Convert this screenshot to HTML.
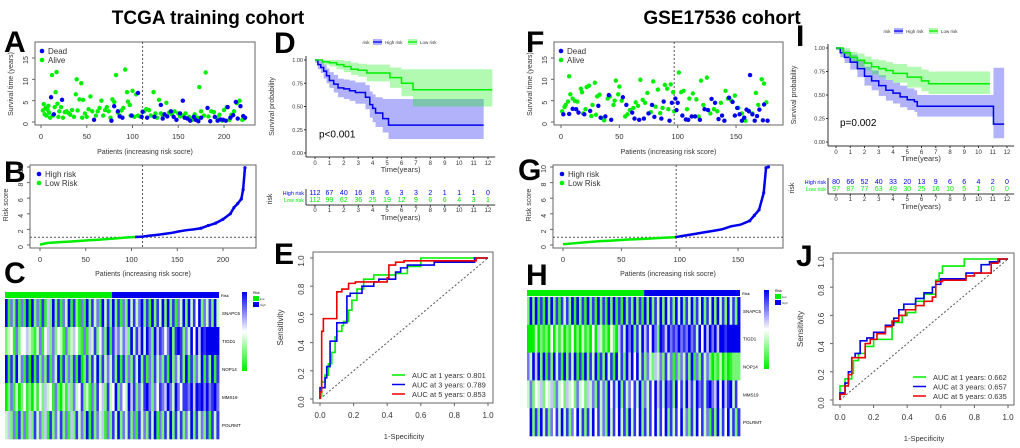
<!DOCTYPE html>
<html><head><meta charset="utf-8"><style>
body{margin:0;background:#fff}
svg{display:block;font-family:"Liberation Sans",sans-serif}
</style></head><body>
<svg id="fig" width="1020" height="448" viewBox="0 0 1020 448">
<g font-weight="bold" fill="#000">
<text x="208" y="24" font-size="19" text-anchor="middle">TCGA training cohort</text>
<text x="722" y="24" font-size="19" text-anchor="middle">GSE17536  cohort</text>
<g font-size="30">
<text x="4" y="52">A</text>
<text x="4" y="182">B</text>
<text x="4" y="283">C</text>
<text x="274" y="53">D</text>
<text x="274" y="264">E</text>
<text x="526" y="52">F</text>
<text x="518" y="180">G</text>
<text x="526" y="285">H</text>
<text x="796" y="46">I</text>
<text x="796" y="266">J</text>
</g></g>
</svg>
<script>
// ---------- DATA ----------
const aLowIdx=[2,3,4,5,6,7,8,9,10,12,13,15,16,17,18,19,20,22,24,26,28,30,32,34,36,38,39,40,42,44,45,46,48,50,52,54,56,60,62,64,66,68,70,72,74,76,78,80,82,84,86,88,90,92,94,95,97,98,100,102,104,106,108,113,115,118,120,123,125,127,129,131,133,137,140,143,146,150,152,155,158,162,165,168,171,173,175,178,180,183,186,189,192,195,198,200,203,206,208,211,214,217,220,222];
const aLowTime=[2.7,4.2,1.8,3.3,1.5,2.9,3.8,2.2,1,11,1.5,3.5,7,11.7,4.3,1.2,2.5,3.5,1,2.3,2.5,2.1,1.7,2.8,1.2,6.5,10,2.7,5.3,9.1,1,5.2,2,1.2,3,6,2.5,1.5,2.5,3.3,5,1.5,2.8,3.5,2.5,1,5.3,4.7,11,2.2,1.5,2.7,3.3,12.3,7,4.8,4,1.5,7.3,1.2,6.5,1.5,1.3,2.5,3,2.8,1.5,7,2,1,5.2,2,1.5,4.5,2.2,1.8,2.5,2,1.3,1.5,2,1.2,0.5,1.8,1,8.2,2.5,1.5,11.6,1.3,2.5,2.3,1,1.7,0.3,2.8,3.5,0.5,1.7,2.5,4.4,5,0.5,0.8];
const aDeadIdx=[11,14,23,58,77,80,84,86,89,99,106,110,111,116,124,131,133,135,138,142,145,148,152,155,157,160,163,167,169,172,175,182,185,190,193,196,199,202,204,207,210,213,215,218,221,223];
const aDeadTime=[5.8,1.8,5.2,0.5,0.3,3.7,2.5,1.3,1,1.5,6.8,1.2,2.4,1,1.2,4,0.8,1.8,1.3,2.5,1.2,0.5,2,5,1,0.8,0.3,1.2,0.5,0.2,1,3.3,0.2,1.2,0.3,0.6,0.5,0.3,3.5,1,1.6,4.7,0.8,3.7,1.4,1];
const fLowIdx=[1,3,4,6,7,8,10,12,14,17,18,19,21,22,24,26,27,29,30,31,33,35,37,40,42,45,46,47,49,50,52,55,57,59,62,64,66,68,70,72,74,77,79,81,83,85,87,89,91,92,94,96,97,101,103,105,108,110,113,116,118,120,122,125,128,131,134,137,141,143,146,149,152,155,158,161,164,167,169,172,174,176];
const fLowTime=[2.5,3.5,4,4.8,10.7,6.5,5.5,4.9,4.8,7.8,7,2,3,8.2,8.5,1.4,4,9.2,1.7,6,6.4,0.9,0.4,5.5,6,4,5,9.7,6.5,8.3,5,1.3,1.8,2.8,3.3,4.6,3.8,9.9,5.2,4.5,6.8,2.3,9.5,3.6,7.6,2.1,3.3,8.7,7.8,3,8.8,7,2.5,11.6,7,7.3,3,5.5,6.7,5.3,1.3,9.7,4,10.4,2,3,2.5,4.5,7.3,5.5,5,6.2,3.3,2,0.3,2.6,2,6.8,4,10,9,4.6];
const fDeadIdx=[2,7,10,13,15,20,25,32,34,38,41,43,53,56,61,63,67,71,75,78,80,86,88,93,95,98,99,100,104,107,109,112,115,119,123,126,129,132,135,138,140,144,147,149,151,153,155,157,159,161,162,164,166,168,170,173,174,177];
const fDeadTime=[1.8,1.9,3.1,3,2.2,1.8,2.6,3.8,1,1.3,6.3,0.5,5.8,4,2.2,0.8,0.5,0.8,2,4,1.2,0.8,4.8,0.3,4.5,5.5,2.8,4.5,1.5,0.6,0.5,1.3,1.3,0.5,3,2.8,5.4,4.5,0.7,1.5,0.3,5.7,4.7,1.5,3.3,1.8,0.3,1,2.9,2.5,11,1.8,0.3,1.4,2.9,0.4,4.1,0.3];
const bIdx=[0,8,16,24,32,40,48,56,64,72,80,88,96,104,112,120,128,136,144,152,160,168,176,184,192,200,208,212,216,220,222,224];
const bScore=[0.05,0.25,0.32,0.38,0.43,0.5,0.56,0.62,0.68,0.75,0.82,0.9,0.97,1.02,1.08,1.2,1.3,1.42,1.55,1.75,1.9,2.0,2.15,2.5,2.8,3.3,4.0,4.8,5.3,5.9,7.1,9.9];
const gIdx=[0,8,16,24,32,40,48,56,64,72,80,88,96,104,112,120,128,136,144,152,160,164,168,172,174,176];
const gScore=[0.1,0.2,0.3,0.4,0.5,0.55,0.62,0.7,0.75,0.8,0.88,0.95,1.0,1.2,1.4,1.6,1.8,2.0,2.4,2.6,3.1,3.8,4.5,6.7,9.9,10];
const genes=["SNAPC5","TIGD1","NOP14","MMS19","POLRMT"];
const cHeat=[
"8162716180826171528271638172061827361837282716283736827182738282716382837482637283",
"2341624453213614526243162354216153724628175636528375838628576468278726384858788888",
"8172836170817262716381726271802727382736372817262738271627362718263728172638172817",
"0261302412031425341620315263472316274527348264385726378626476586386477685878686786",
"3526172615273625172637261527362817263516273826372617362738162738273726382736271737"];
const hHeat=[
"2828171828271737281827182718271828171827282718282738283728382738273827382837283728",
"0003021204031302140203120405312042057386827385748628758676867686738485868588788888",
"6385828172837182738171827381728371837285848372632536273616263728162736202130201222",
"3624352435263425342634253627362847382736473826374857386728473857386737865848578374",
"4827283726473837264837273847362837483728374827374837482737483627384736172837483727"];
const dHighT=[0,0.2,0.4,0.6,0.8,1,1.3,1.6,2,2.4,2.8,3.3,3.5,3.8,4,4.2,4.7,5.1,11.7];
const dHighS=[1,0.95,0.92,0.88,0.83,0.78,0.74,0.7,0.69,0.67,0.65,0.65,0.6,0.52,0.48,0.43,0.37,0.3,0.3];
const dHighL=[0.97,0.9,0.86,0.8,0.75,0.7,0.65,0.6,0.58,0.56,0.53,0.53,0.47,0.38,0.33,0.28,0.22,0.15,0.15];
const dHighU=[1,1,0.98,0.95,0.91,0.87,0.84,0.8,0.79,0.78,0.76,0.76,0.73,0.66,0.63,0.6,0.58,0.58,0.58];
const dLowT=[0,0.5,1,1.5,2,2.5,3,3.6,5.2,6,6.8,12.3];
const dLowS=[1,0.98,0.97,0.95,0.93,0.9,0.89,0.86,0.81,0.75,0.68,0.68];
const dLowL=[1,0.95,0.93,0.9,0.87,0.84,0.82,0.77,0.7,0.61,0.5,0.5];
const dLowU=[1,1,1,1,0.99,0.97,0.96,0.95,0.92,0.9,0.9,0.9];
const dHighN=[112,67,40,16,8,6,3,3,2,1,1,1,0];
const dLowN=[112,99,62,36,25,19,12,9,6,6,4,3,1];
const iHighT=[0,0.3,0.6,1,1.5,2,2.5,3,3.5,4,4.5,5,5.5,5.7,11,11.05,11.8];
const iHighS=[1,0.95,0.9,0.85,0.78,0.7,0.65,0.6,0.55,0.52,0.48,0.45,0.43,0.38,0.38,0.19,0.19];
const iHighL=[0.98,0.9,0.84,0.77,0.69,0.6,0.55,0.49,0.44,0.41,0.37,0.34,0.32,0.27,0.27,0.04,0.04];
const iHighU=[1,1,0.97,0.93,0.87,0.8,0.76,0.71,0.66,0.63,0.6,0.57,0.55,0.5,0.5,0.79,0.79];
const iLowT=[0,0.5,1,1.5,2,2.5,3,3.5,4,5,6,6.5,10.8];
const iLowS=[1,0.95,0.9,0.87,0.84,0.8,0.78,0.76,0.73,0.69,0.65,0.62,0.62];
const iLowL=[0.98,0.9,0.84,0.8,0.76,0.72,0.69,0.66,0.63,0.58,0.54,0.51,0.51];
const iLowU=[1,1,0.96,0.94,0.91,0.88,0.87,0.85,0.83,0.8,0.77,0.75,0.75];
const iHighN=[80,66,52,40,33,20,13,9,6,6,4,2,0];
const iLowN=[97,87,77,63,49,30,25,16,10,5,1,0,0];
const e1F=[0,0.01,0.03,0.05,0.07,0.09,0.1,0.13,0.14,0.17,0.19,0.22,0.26,0.32,0.45,0.52,0.6,0.7,1];
const e1T=[0,0.02,0.12,0.17,0.25,0.33,0.44,0.48,0.52,0.55,0.63,0.7,0.78,0.85,0.88,0.89,0.94,1,1];
const e3F=[0,0,0.03,0.04,0.06,0.1,0.16,0.18,0.25,0.32,0.35,0.45,0.48,0.52,0.68,0.92,1];
const e3T=[0,0.08,0.08,0.15,0.23,0.41,0.54,0.73,0.75,0.8,0.83,0.85,0.9,0.93,0.95,0.97,1];
const e5F=[0,0.01,0.02,0.1,0.13,0.17,0.21,0.25,0.4,0.41,0.45,0.5,0.55,0.93,1];
const e5T=[0,0.05,0.48,0.57,0.76,0.78,0.82,0.83,0.83,0.86,0.95,0.97,0.98,0.98,1];
const j1F=[0,0,0.03,0.07,0.08,0.11,0.15,0.2,0.22,0.31,0.31,0.37,0.4,0.45,0.5,0.57,0.59,0.61,0.74,0.78,1];
const j1T=[0,0.05,0.1,0.15,0.19,0.28,0.33,0.38,0.43,0.43,0.52,0.55,0.6,0.62,0.7,0.75,0.85,0.9,0.95,1,1];
const j3F=[0,0.03,0.05,0.07,0.09,0.12,0.16,0.2,0.27,0.32,0.35,0.38,0.45,0.5,0.55,0.57,0.6,0.75,0.78,0.84,0.89,0.95,1];
const j3T=[0,0.05,0.12,0.2,0.3,0.33,0.42,0.44,0.48,0.53,0.58,0.64,0.68,0.72,0.76,0.8,0.82,0.86,0.9,0.9,0.96,0.98,1];
const j5F=[0,0.03,0.05,0.07,0.1,0.15,0.18,0.22,0.27,0.31,0.35,0.39,0.45,0.5,0.55,0.57,0.61,0.75,0.8,0.9,0.94,1];
const j5T=[0,0.04,0.1,0.18,0.3,0.3,0.4,0.43,0.47,0.52,0.56,0.6,0.64,0.67,0.7,0.73,0.84,0.85,0.88,0.9,0.97,1];
// ---------- DRAW ----------
const NS="http://www.w3.org/2000/svg",svg=document.getElementById('fig');
const G="#00ee00",B="#0000ee",R="#ee0000";
function el(tag,at,parent,txt){const e=document.createElementNS(NS,tag);for(const k in at)e.setAttribute(k,at[k]);if(txt!==undefined)e.textContent=txt;(parent||svg).appendChild(e);return e;}
function grp(name){const g=el('g',{});


return g;}
function T(g,x,y,s,size,o){o=o||{};const e=el('text',Object.assign({x:x,y:y,'font-size':size,fill:o.fill||'#333','text-anchor':o.a||'middle'},o.rot?{transform:`rotate(-90 ${x} ${y})`}:{}),g,s);


return e;}
function box(g,x1,y1,x2,y2){el('rect',{x:x1,y:y1,width:x2-x1,height:y2-y1,fill:'none',stroke:'#666','stroke-width':1},g);}

// Scatter panels (A, F)
function scatterPanel(name,bx,x0,xs,xmax,xticks,cut,lowI,lowT,deadI,deadT,xlab){
 const g=grp(name);const sx=v=>x0+v*xs,sy=v=>122-v*64/15;
 box(g,bx[0],42,bx[1],125);
 [0,5,10,15].forEach(v=>{el('line',{x1:bx[0]-3,x2:bx[0],y1:sy(v),y2:sy(v),stroke:'#666'},g);T(g,bx[0]-7,sy(v)+2,v,7,{rot:1});});
 xticks.forEach(v=>{el('line',{x1:sx(v),x2:sx(v),y1:125,y2:128,stroke:'#666'},g);T(g,sx(v),139,v,7.5);});
 el('line',{x1:sx(cut),x2:sx(cut),y1:42,y2:125,stroke:'#555','stroke-dasharray':'2,2'},g);
 lowI.forEach((v,i)=>{const c=el('circle',{cx:sx(v),cy:sy(lowT[i]),r:2.2,fill:G},g);
 
 });
 deadI.forEach((v,i)=>{const c=el('circle',{cx:sx(v),cy:sy(deadT[i]),r:2.2,fill:B},g);
 
 });
 el('circle',{cx:bx[0]+7,cy:51,r:2.3,fill:B},g);T(g,bx[0]+13,54,'Dead',8,{a:'start'});
 el('circle',{cx:bx[0]+7,cy:60,r:2.3,fill:G},g);T(g,bx[0]+13,63,'Alive',8,{a:'start'});
 T(g,bx[0]-22,84,'Survival time (years)',7,{rot:1,name:'y-axis-title'});
 T(g,(bx[0]+bx[1])/2,154,xlab,7,{name:'x-axis-title'});
}
scatterPanel('panel-a-scatter',[35,255],41,0.915,224,[0,50,100,150,200],111,aLowIdx,aLowTime,aDeadIdx,aDeadTime,'Patients (increasing risk socre)');
scatterPanel('panel-f-scatter',[554,783],561,1.167,177,[0,50,100,150],97,fLowIdx,fLowTime,fDeadIdx,fDeadTime,'Patients (increasing risk score)');

// Risk score panels (B, G)
function riskPanel(name,bx,x0,xs,cut,idx,score,xticks){
 const g=grp(name);const sx=v=>x0+v*xs,sy=v=>245-v*7.8;
 box(g,bx[0],165,bx[1],248);
 [0,2,4,6,8,10].forEach(v=>{el('line',{x1:bx[0]-3,x2:bx[0],y1:sy(v),y2:sy(v),stroke:'#666'},g);T(g,bx[0]-7,sy(v)+2,v,7,{rot:1});});
 xticks.forEach(v=>{el('line',{x1:sx(v),x2:sx(v),y1:248,y2:251,stroke:'#666'},g);T(g,sx(v),262,v,7.5);});
 el('line',{x1:sx(cut),x2:sx(cut),y1:165,y2:248,stroke:'#555','stroke-dasharray':'2,2'},g);
 el('line',{x1:bx[0],x2:bx[1],y1:sy(1),y2:sy(1),stroke:'#555','stroke-dasharray':'2,2'},g);
 let lo='',hi='';idx.forEach((v,i)=>{const p=`${sx(v)},${sy(score[i])} `;if(v<=cut)lo+=p;if(v>=cut-8)hi+=p;});
 const l1=el('polyline',{points:lo,fill:'none',stroke:G,'stroke-width':2.5},g);
 
 
 const l2=el('polyline',{points:hi,fill:'none',stroke:B,'stroke-width':2.5},g);
 
 
 idx.forEach((v,i)=>{if(v>cut+60)el('circle',{cx:sx(v),cy:sy(score[i]),r:1.6,fill:B},g);});
 el('circle',{cx:bx[0]+9,cy:174,r:2.3,fill:B},g);T(g,bx[0]+15,177,'High risk',8,{a:'start'});
 el('circle',{cx:bx[0]+9,cy:183,r:2.3,fill:G},g);T(g,bx[0]+15,186,'Low Risk',8,{a:'start'});
 T(g,bx[0]-22,205,'Risk score',7,{rot:1,name:'y-axis-title'});
 T(g,(bx[0]+bx[1])/2,276,'Patients (increasing risk socre)',7,{name:'x-axis-title'});
}
riskPanel('panel-b-risk',[30,256],40,0.915,112,bIdx,bScore,[0,50,100,150,200]);
riskPanel('panel-g-risk',[553,783],563,1.167,97,gIdx,gScore,[0,50,100,150]);

// Heatmaps (C, H)
const pal=["#00ee00","#33f033","#77f577","#c5fac5","#ffffff","#c5c5fa","#7777f5","#3333f0","#0000ee"];
function heat(name,x1,x2,y0,y1,split,rows,lg){
 const g=grp(name);const n=rows[0].length,cw=(x2-x1)/n,rh=(y1-(y0+7))/rows.length;
 el('rect',{x:x1,y:y0,width:(x2-x1)*split,height:6,fill:G},g);
 el('rect',{x:x1+(x2-x1)*split,y:y0,width:(x2-x1)*(1-split),height:6,fill:B},g);
 T(g,x2+2,y0+5,'Risk',4,{a:'start',fill:'#000'});
 rows.forEach((r,ri)=>{for(let c=0;c<n;c++){const e=el('rect',{x:x1+c*cw,y:y0+7+ri*rh,width:cw+0.4,height:rh+0.3,fill:pal[+r[c]]},g);
  
  }
  T(g,x2+3,y0+7+ri*rh+rh/2+2,genes[ri],4.5,{a:'start',fill:'#000'});});
 const lgr=el('linearGradient',{id:name+'g',x1:0,y1:0,x2:0,y2:1},g);
 ['#0000ee','#ffffff','#00ee00'].forEach((c,i)=>el('stop',{offset:i/2,'stop-color':c},lgr));
 el('rect',{x:lg,y:y0,width:5,height:79,fill:`url(#${name}g)`},g);
 el('rect',{x:lg+11,y:y0+4,width:6,height:5,fill:G},g);el('rect',{x:lg+11,y:y0+10,width:6,height:5,fill:B},g);
 T(g,lg+11,y0+2,'Risk',3.5,{a:'start',fill:'#000'});T(g,lg+18,y0+8,'low',3,{a:'start'});T(g,lg+18,y0+14,'high',3,{a:'start'});
}
heat('panel-c-heatmap',5,219,292,439,0.5,cHeat,242);
heat('panel-h-heatmap',527,740,290,436,0.55,hHeat,764);

// KM panels (D, I)
function km(name,x0,x12,y1,y0,axL,axB,hiT,hiS,hiL,hiU,loT,loS,loL,loU,hiN,loN,ptxt,rowY,legY,lgx){
 const g=grp(name);const sx=t=>x0+t*(x12-x0)/12,sy=s=>y0-s*(y0-y1);
 function step(T_,S_){let d=`M${sx(T_[0])},${sy(S_[0])}`;for(let i=1;i<T_.length;i++)d+=`H${sx(T_[i])}V${sy(S_[i])}`;return d;}
 function band(T_,L,U,col){let up='',dn='';for(let i=0;i<T_.length;i++){const xe=i<T_.length-1?sx(T_[i+1]):sx(T_[i]);up+=`L${sx(T_[i])},${sy(U[i])}L${xe},${sy(U[i])}`;}
  for(let i=T_.length-1;i>=0;i--){const xe=i<T_.length-1?sx(T_[i+1]):sx(T_[i]);dn+=`L${xe},${sy(L[i])}L${sx(T_[i])},${sy(L[i])}`;}
  const e=el('path',{d:'M'+up.slice(1)+dn+'Z',fill:col,'fill-opacity':0.3},g);
  
  }
 band(hiT,hiL,hiU,B);band(loT,loL,loU,G);
 const a=el('path',{d:step(hiT,hiS),fill:'none',stroke:B,'stroke-width':1.5},g);
 
 
 const b=el('path',{d:step(loT,loS),fill:'none',stroke:G,'stroke-width':1.5},g);
 
 
 el('line',{x1:axL,x2:axL,y1:y1-4,y2:axB,stroke:'#333'},g);el('line',{x1:axL,x2:sx(12.5),y1:axB,y2:axB,stroke:'#333'},g);
 [0,0.25,0.5,0.75,1].forEach(v=>{el('line',{x1:axL-2,x2:axL,y1:sy(v),y2:sy(v),stroke:'#333'},g);T(g,axL-3,sy(v)+2,v.toFixed(2),5.5,{a:'end'});});
 for(let t=0;t<=12;t++){el('line',{x1:sx(t),x2:sx(t),y1:axB,y2:axB+2,stroke:'#333'},g);T(g,sx(t),axB+8,t,6);
  el('line',{x1:sx(t),x2:sx(t),y1:rowY+10,y2:rowY+12,stroke:'#333'},g);T(g,sx(t),rowY+17,t,6);
  T(g,sx(t),rowY,hiN[t],7,{fill:B});T(g,sx(t),rowY+7,loN[t],7,{fill:G});}
 T(g,(axL+sx(12.5))/2,axB+15,'Time(years)',7.5,{name:'x-axis-title'});
 el('line',{x1:axL,x2:sx(12.5),y1:rowY+10,y2:rowY+10,stroke:'#333'},g);el('line',{x1:axL,x2:axL,y1:rowY-6,y2:rowY+10,stroke:'#333'},g);
 T(g,(axL+sx(12.5))/2,rowY+25,'Time(years)',7.5);
 T(g,axL-2,rowY,'High risk',5.5,{a:'end',fill:B});T(g,axL-2,rowY+7,'Low risk',5.5,{a:'end',fill:G});
 T(g,axL-34,rowY+4,'risk',7,{rot:1});
 T(g,axL-32,(y0+y1)/2,'Survival probability',7,{rot:1,name:'y-axis-title'});
 T(g,x0+4,sy(0.2)+3,ptxt,10,{a:'start',fill:'#000',name:'p-value'});
 T(g,lgx,legY+2,'risk',4.5);
 el('rect',{x:lgx+7,y:legY-3,width:9,height:6,fill:B,'fill-opacity':0.3},g);el('line',{x1:lgx+7,x2:lgx+16,y1:legY,y2:legY,stroke:B,'stroke-width':1.3},g);
 T(g,lgx+19,legY+2,'High risk',4.5,{a:'start'});
 el('rect',{x:lgx+42,y:legY-3,width:9,height:6,fill:G,'fill-opacity':0.3},g);el('line',{x1:lgx+42,x2:lgx+51,y1:legY,y2:legY,stroke:G,'stroke-width':1.3},g);
 T(g,lgx+54,legY+2,'Low risk',4.5,{a:'start'});
}
km('panel-d-km',315,488,60,153,306,157,dHighT,dHighS,dHighL,dHighU,dLowT,dLowS,dLowL,dLowU,dHighN,dLowN,'p<0.001',195,42,366);
km('panel-i-km',836,1007,48,142,828,146,iHighT,iHighS,iHighL,iHighU,iLowT,iLowS,iLowL,iLowU,iHighN,iLowN,'p=0.002',184,31,887);

// ROC panels (E, J)
function roc(name,bx,by,x0,x1,y0,y1,curves,labels,lx,ly){
 const g=grp(name);const sx=v=>x0+v*(x1-x0),sy=v=>y0-v*(y0-y1);
 box(g,bx[0],by[0],bx[1],by[1]);
 [0,0.2,0.4,0.6,0.8,1].forEach(v=>{el('line',{x1:sx(v),x2:sx(v),y1:by[1],y2:by[1]+3,stroke:'#666'},g);T(g,sx(v),by[1]+15,v.toFixed(1),8);
  el('line',{x1:bx[0]-3,x2:bx[0],y1:sy(v),y2:sy(v),stroke:'#666'},g);T(g,bx[0]-9,sy(v)+3,v.toFixed(1),8,{rot:1});});
 el('line',{x1:sx(0),y1:sy(0),x2:sx(1),y2:sy(1),stroke:'#555','stroke-dasharray':'2,2'},g);
 curves.forEach(c=>{let d=`M${sx(c[0][0])},${sy(c[1][0])}`;for(let i=1;i<c[0].length;i++)d+=`V${sy(c[1][i])}H${sx(c[0][i])}`;
  const p=el('path',{d:d,fill:'none',stroke:c[2],'stroke-width':1.6},g);
  
  });
 curves.forEach((c,i)=>{el('line',{x1:lx,x2:lx+13,y1:ly+i*9.5,y2:ly+i*9.5,stroke:c[2],'stroke-width':1.5},g);T(g,lx+20,ly+i*9.5+3,labels[i],7.5,{a:'start'});});
 T(g,(x0+x1)/2,by[1]+36,'1-Specificity',7.5,{name:'x-axis-title'});
 T(g,bx[0]-30,(by[0]+by[1])/2,'Sensitivity',8,{rot:1,name:'y-axis-title'});
}
roc('panel-e-roc',[313,493],[252,403],320,488,399,258,[[e1F,e1T,G],[e3F,e3T,B],[e5F,e5T,R]],['AUC at 1 years: 0.801','AUC at 3 years: 0.789','AUC at 5 years: 0.853'],392,375);
roc('panel-j-roc',[833,1014],[253,405],840,1008,400,259,[[j1F,j1T,G],[j3F,j3T,B],[j5F,j5T,R]],['AUC at 1 years: 0.662','AUC at 3 years: 0.657','AUC at 5 years: 0.635'],913,377);
</script>
</body></html>
